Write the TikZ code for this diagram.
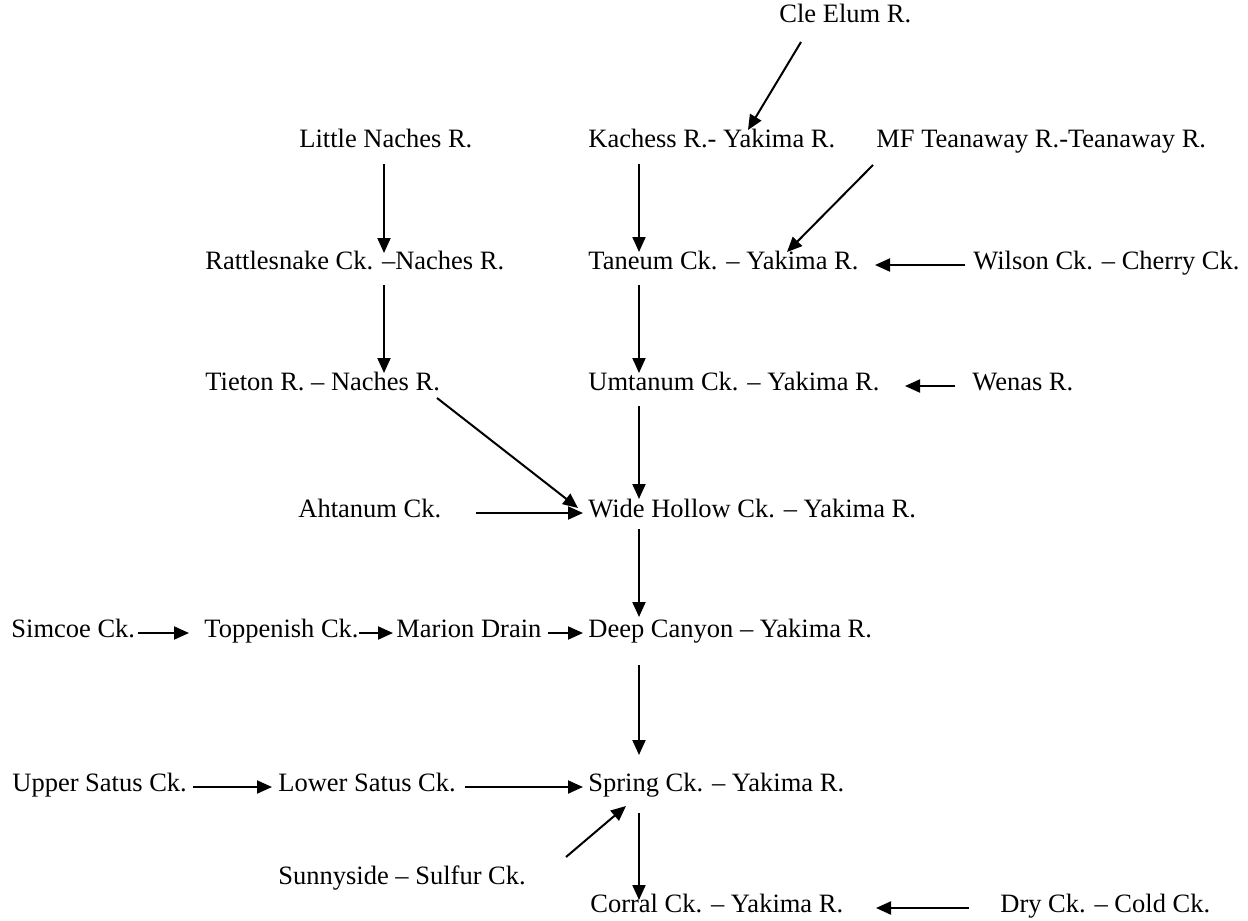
\documentclass[tikz,border=0pt]{standalone}
\usepackage{fontspec}
\setmainfont{Liberation Serif}
\usetikzlibrary{arrows.meta,calc}
\begin{document}
\begin{tikzpicture}[x=0.5pt,y=-0.5pt,
  lbl/.style={anchor=west,inner sep=0pt,text height=0.7em,text depth=0.25em,font=\fontsize{13.25}{16}\selectfont},
  arr/.style={line width=1pt,-{Triangle[length=7.5pt,width=6.5pt]}}]
\useasboundingbox (0,0) rectangle (1248,921);
\node[lbl] (cle) at (779,18) {Cle Elum R.};
\node[lbl] (little) at (299,143) {Little Naches R.};
\node[lbl] (kachess) at (588,143) {Kachess R.- Yakima R.};
\node[lbl] (mf) at (876,143) {MF Teanaway R.-Teanaway R.};
\node[lbl] (rattle) at (205,265) {Rattlesnake Ck. –Naches R.};
\node[lbl] (taneum) at (588,265) {Taneum Ck. – Yakima R.};
\node[lbl] (wilson) at (973,265) {Wilson Ck. – Cherry Ck.};
\node[lbl] (tieton) at (205,386) {Tieton R. – Naches R.};
\node[lbl] (umtanum) at (588,386) {Umtanum Ck. – Yakima R.};
\node[lbl] (wenas) at (972,386) {Wenas R.};
\node[lbl] (ahtanum) at (298,513) {Ahtanum Ck.};
\node[lbl] (wide) at (588,513) {Wide Hollow Ck. – Yakima R.};
\node[lbl] (simcoe) at (11,633) {Simcoe Ck.};
\node[lbl] (toppenish) at (204,633) {Toppenish Ck.};
\node[lbl] (marion) at (396,633) {Marion Drain};
\node[lbl] (deep) at (588,633) {Deep Canyon – Yakima R.};
\node[lbl] (upper) at (12,787) {Upper Satus Ck.};
\node[lbl] (lower) at (278,787) {Lower Satus Ck.};
\node[lbl] (spring) at (588,787) {Spring Ck. – Yakima R.};
\node[lbl] (sunny) at (278,880) {Sunnyside – Sulfur Ck.};
\node[lbl] (corral) at (590,908) {Corral Ck. – Yakima R.};
\node[lbl] (dry) at (1000,908) {Dry Ck. – Cold Ck.};
% connectors
\draw[arr] ($(cle.west)+(22,24)$) -- ($(kachess.west)+(160,-13)$);
\draw[arr] ($(little.west)+(85,21)$) -- ($(rattle.west)+(179,-12)$);
\draw[arr] ($(kachess.west)+(51,21)$) -- ($(taneum.west)+(51,-13)$);
\draw[arr] ($(mf.west)+(-3,22)$) -- ($(taneum.west)+(199,-13)$);
\draw[arr] ($(wilson.west)+(-8,0)$) -- ($(taneum.west)+(287,0)$);
\draw[arr] ($(rattle.west)+(179,20)$) -- ($(tieton.west)+(179,-13)$);
\draw[arr] ($(taneum.west)+(51,20)$) -- ($(umtanum.west)+(51,-13)$);
\draw[arr] ($(wenas.west)+(-17,0)$) -- ($(umtanum.west)+(317,0)$);
\draw[arr] ($(tieton.west)+(232,12)$) -- ($(wide.west)+(-10,-5)$);
\draw[arr] ($(umtanum.west)+(51,20)$) -- ($(wide.west)+(51,-14)$);
\draw[arr] ($(ahtanum.west)+(178,0)$) -- ($(wide.west)+(-5,0)$);
\draw[arr] ($(wide.west)+(51,16)$) -- ($(deep.west)+(51,-16)$);
\draw[arr] ($(simcoe.west)+(127,0)$) -- ($(toppenish.west)+(-15,0)$);
\draw[arr] ($(toppenish.west)+(155,0)$) -- ($(marion.west)+(-3,0)$);
\draw[arr] ($(marion.west)+(152,0)$) -- ($(deep.west)+(-5,0)$);
\draw[arr] ($(deep.west)+(51,32)$) -- ($(spring.west)+(51,-32)$);
\draw[arr] ($(upper.west)+(181,0)$) -- ($(lower.west)+(-6,0)$);
\draw[arr] ($(lower.west)+(187,0)$) -- ($(spring.west)+(-5,0)$);
\draw[arr] ($(sunny.west)+(288,-23)$) -- ($(spring.west)+(38,19)$);
\draw[arr] ($(spring.west)+(51,26)$) -- ($(corral.west)+(49,-8)$);
\draw[arr] ($(dry.west)+(-31,0)$) -- ($(corral.west)+(286,0)$);
\end{tikzpicture}
\end{document}
